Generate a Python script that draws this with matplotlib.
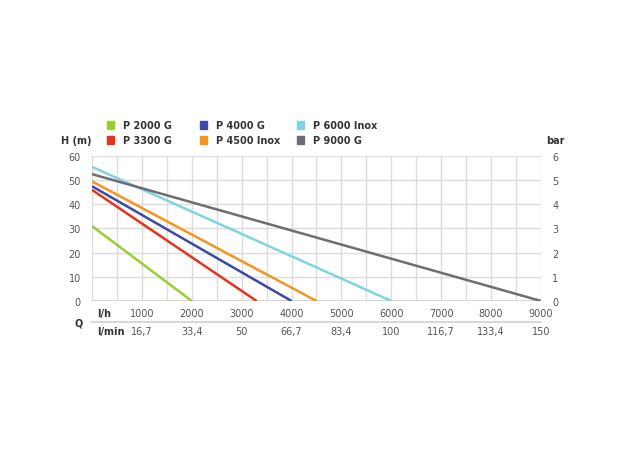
import matplotlib
matplotlib.use("Agg")
import matplotlib.pyplot as plt
import numpy as np

# pump curves: head at zero flow (m) and max flow (l/h)
names = ["P 2000 G", "P 3300 G", "P 4000 G", "P 4500 Inox", "P 6000 Inox", "P 9000 G"]
head0 = [31, 46, 47.5, 49.5, 55.5, 52.5]
qmax = [2000, 3300, 4000, 4500, 6000, 9000]
colors = ["#9acd32", "#e8321e", "#3a4aa8", "#f7941d", "#80d4e0", "#6d6e71"]
lh_ticks = [1000, 2000, 3000, 4000, 5000, 6000, 7000, 8000, 9000]
lmin_labels = ["16,7", "33,4", "50", "66,7", "83,4", "100", "116,7", "133,4", "150"]

GRID = "#dcdcdc"
TXT = "#555555"
plt.rcParams.update({"font.family": "DejaVu Sans", "font.size": 7})

fig = plt.figure(figsize=(6.24, 4.6), dpi=100)
ax = fig.add_axes([0.1474, 0.3435, 0.7196, 0.3152])
for q, h, c in zip(qmax, head0, colors):
    ax.plot([0, q], [h, 0], color=c, linewidth=1.8, solid_capstyle="butt")
ax.set_xlim(0, 9000); ax.set_ylim(0, 60)
ax.set_xticks(np.arange(0, 9001, 500))
ax.set_yticks(np.arange(0, 61, 10))
ax.grid(True, color=GRID, linewidth=1.0)
ax.set_axisbelow(True)
for s in ax.spines.values():
    s.set_visible(False)
ax.axhline(0, color="#c8c8c8", linewidth=1.2, zorder=0)
ax.tick_params(length=0, labelbottom=False, colors=TXT, pad=8)
ax2 = ax.twinx()
ax2.set_ylim(0, 6); ax2.set_yticks(range(7))
ax2.tick_params(length=0, colors=TXT, pad=8)
for s in ax2.spines.values():
    s.set_visible(False)

# bottom Q labels
ylh = -0.083; ysep = -0.145; ymin = -0.207
xt = ax.get_xaxis_transform()
for v in lh_ticks:
    ax.text(v, ylh, str(v), transform=xt, ha="center", va="center", color=TXT)
for v, l in zip(lh_ticks, lmin_labels):
    ax.text(v, ymin, l, transform=xt, ha="center", va="center", color=TXT)
ax.text(100, ylh, "l/h", transform=xt, ha="left", va="center", color="#333", fontweight="bold")
ax.text(100, ymin, "l/min", transform=xt, ha="left", va="center", color="#333", fontweight="bold")
ax.text(-0.02, (ylh + ymin) / 2, "Q", transform=ax.transAxes, ha="right", va="center", color="#333", fontweight="bold")
ax.plot([0, 9000], [ysep, ysep], transform=xt, color="#d0d0d0", linewidth=1.2, clip_on=False)

# axis titles
fig.text(0.098, 1 - 141 / 460, "H (m)", ha="left", va="center", color="#333", fontweight="bold")
fig.text(0.876, 1 - 141 / 460, "bar", ha="left", va="center", color="#333", fontweight="bold")

# legend
lx = [107, 200, 297]
ly = [126, 141]
for i, (n, c) in enumerate(zip(names, colors)):
    x = lx[i // 2] / 624; y = 1 - ly[i % 2] / 460
    fig.patches.append(plt.Rectangle((x, y - 0.009), 0.0115, 0.018, color=c, transform=fig.transFigure))
    fig.text(x + 0.025, y, n, ha="left", va="center", color="#333", fontweight="bold")

fig.savefig("out.png", dpi=100)
